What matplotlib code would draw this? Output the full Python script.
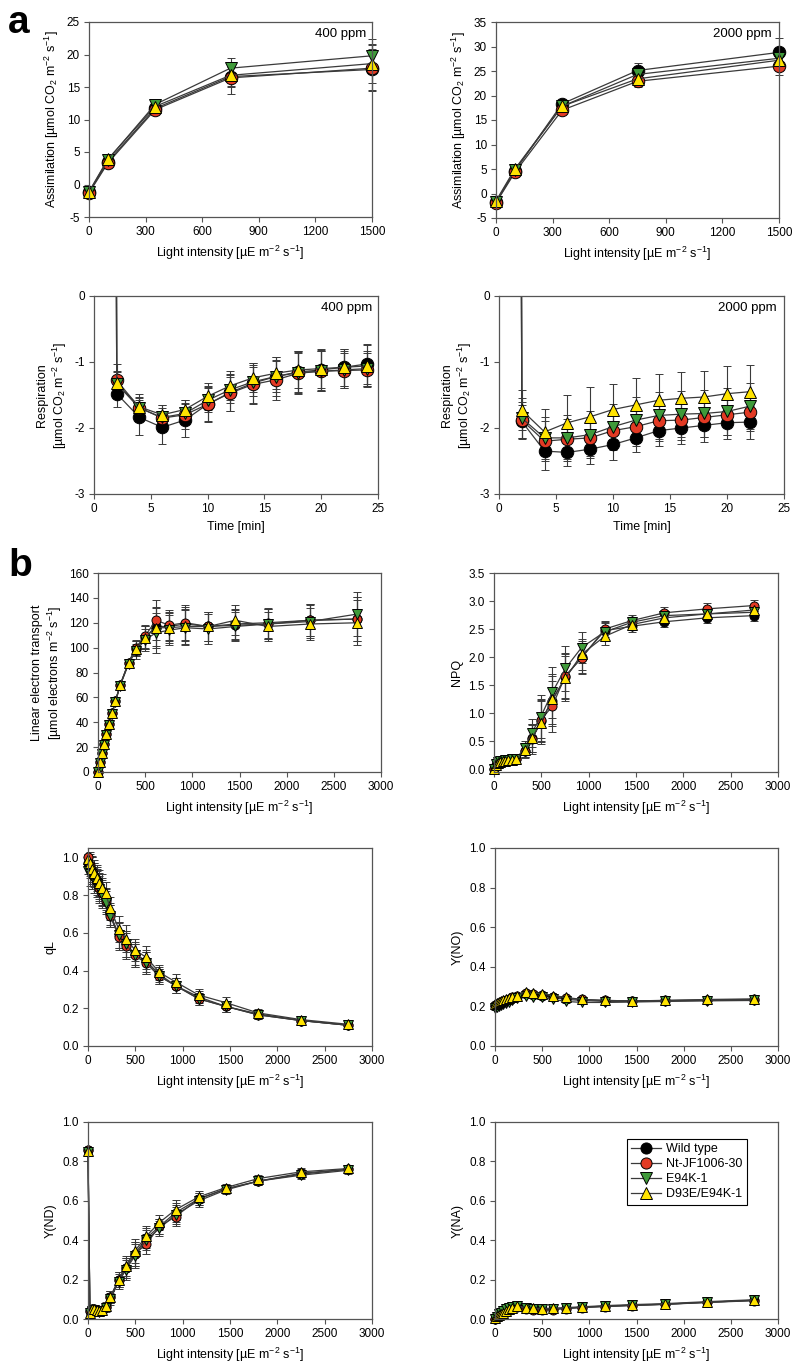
import matplotlib
matplotlib.use("Agg")
import matplotlib.pyplot as plt
from matplotlib.lines import Line2D

plt.rcParams['font.family'] = ['Liberation Sans', 'DejaVu Sans']
plt.rcParams['mathtext.fontset'] = 'custom'
plt.rcParams['mathtext.rm'] = 'Liberation Sans'
plt.rcParams['mathtext.it'] = 'Liberation Sans:italic'
plt.rcParams['axes.unicode_minus'] = False

# ---- series definitions ----
names = ['Wild type', 'Nt-JF1006-30', 'E94K-1', 'D93E/E94K-1']
colors = ['#000000', '#e23a24', '#3f9a3a', '#ffe300']
markers = ['o', 'o', 'v', '^']

# ---- panel a: light response of assimilation ----
light_a = [0, 100, 350, 750, 1500]
asm400_wt = [-1.2, 3.5, 11.7, 16.6, 17.7]
asm400_nt = [-1.3, 3.3, 11.5, 16.4, 17.9]
asm400_e94k = [-1.2, 3.8, 12.3, 17.9, 19.8]
asm400_d93e = [-1.1, 3.9, 12.0, 16.8, 18.6]
asm400_err_wt = [0.3, 0.4, 0.6, 1.5, 3.2]
asm400_err_nt = [0.3, 0.4, 0.7, 2.5, 3.5]
asm400_err_e94k = [0.3, 0.4, 0.6, 1.5, 2.6]
asm400_err_d93e = [0.3, 0.4, 0.6, 1.8, 3.0]

asm2000_wt = [-1.8, 4.6, 18.3, 25.1, 28.8]
asm2000_nt = [-1.9, 4.3, 17.0, 22.9, 26.0]
asm2000_e94k = [-1.7, 4.8, 17.8, 24.3, 27.6]
asm2000_d93e = [-1.5, 5.0, 17.8, 23.4, 27.2]
asm2000_err_wt = [0.4, 0.5, 0.6, 1.6, 3.0]
asm2000_err_nt = [0.4, 0.5, 0.6, 1.2, 1.8]
asm2000_err_e94k = [0.4, 0.5, 0.6, 1.2, 2.0]
asm2000_err_d93e = [0.4, 0.5, 0.6, 1.2, 2.0]

# ---- panel a: respiration in the dark ----
time400 = [1.9, 2, 4, 6, 8, 10, 12, 14, 16, 18, 20, 22, 24]
resp400_wt = [5.0, -1.48, -1.84, -1.99, -1.88, -1.64, -1.46, -1.32, -1.22, -1.15, -1.12, -1.08, -1.03]
resp400_nt = [5.0, -1.28, -1.69, -1.85, -1.80, -1.64, -1.47, -1.34, -1.27, -1.17, -1.14, -1.13, -1.12]
resp400_e94k = [5.0, -1.33, -1.70, -1.84, -1.78, -1.58, -1.42, -1.30, -1.22, -1.16, -1.14, -1.12, -1.10]
resp400_d93e = [5.0, -1.32, -1.68, -1.80, -1.72, -1.52, -1.36, -1.24, -1.17, -1.12, -1.10, -1.08, -1.06]
resp400_err_wt = [0, 0.20, 0.27, 0.25, 0.26, 0.27, 0.28, 0.30, 0.30, 0.32, 0.30, 0.28, 0.30]
resp400_err_nt = [0, 0.25, 0.20, 0.20, 0.22, 0.26, 0.28, 0.30, 0.30, 0.32, 0.30, 0.26, 0.25]
resp400_err_e94k = [0, 0.18, 0.15, 0.15, 0.15, 0.18, 0.20, 0.22, 0.24, 0.30, 0.30, 0.28, 0.26]
resp400_err_d93e = [0, 0.18, 0.15, 0.15, 0.15, 0.20, 0.22, 0.22, 0.24, 0.28, 0.30, 0.28, 0.32]

time2000 = [1.9, 2, 4, 6, 8, 10, 12, 14, 16, 18, 20, 22]
resp2000_wt = [5.0, -1.90, -2.35, -2.37, -2.32, -2.25, -2.15, -2.04, -2.00, -1.96, -1.92, -1.91]
resp2000_nt = [5.0, -1.88, -2.20, -2.17, -2.15, -2.04, -1.98, -1.89, -1.88, -1.84, -1.80, -1.76]
resp2000_e94k = [5.0, -1.85, -2.15, -2.15, -2.10, -1.98, -1.88, -1.81, -1.79, -1.78, -1.75, -1.67]
resp2000_d93e = [5.0, -1.73, -2.06, -1.92, -1.83, -1.72, -1.65, -1.58, -1.55, -1.53, -1.48, -1.45]
resp2000_err_wt = [0, 0.25, 0.28, 0.20, 0.22, 0.23, 0.22, 0.24, 0.25, 0.25, 0.24, 0.25]
resp2000_err_nt = [0, 0.28, 0.30, 0.30, 0.28, 0.28, 0.30, 0.30, 0.30, 0.30, 0.30, 0.28]
resp2000_err_e94k = [0, 0.30, 0.32, 0.35, 0.35, 0.35, 0.35, 0.35, 0.35, 0.35, 0.35, 0.35]
resp2000_err_d93e = [0, 0.30, 0.35, 0.42, 0.45, 0.38, 0.40, 0.40, 0.40, 0.40, 0.42, 0.40]

# ---- panel b: chlorophyll fluorescence / P700 light curves ----
light_b = [0, 20, 45, 65, 90, 120, 150, 185, 235, 325, 400, 495, 615, 755, 925, 1170, 1455, 1800, 2250, 2750]

let_wt = [0, 8, 15, 22.5, 30.5, 38.5, 47.5, 57, 70, 88, 99, 108, 117, 117, 119, 117, 118, 119, 122, 123]
let_nt = [0, 8, 15, 22.5, 30.5, 38.5, 47.5, 57, 70, 88, 100, 109, 122, 118, 120, 117, 119, 120, 122, 123]
let_e94k = [0, 7.5, 14.5, 22, 30, 38, 47, 56.5, 69.5, 87, 97, 106, 112, 114, 116, 115, 117, 119, 121, 127]
let_d93e = [0, 8, 15, 22.5, 30.5, 38.5, 47.5, 57, 70, 88, 99, 108, 116, 116, 117, 117, 122, 117, 119, 120]
let_err = [0, 1, 1, 1.5, 1.5, 2, 2, 2, 2.5, 3, 6, 9, 16, 12, 14, 12, 12, 12, 13, 18]

npq_wt = [0, 0.08, 0.12, 0.14, 0.15, 0.16, 0.17, 0.17, 0.18, 0.33, 0.55, 0.86, 1.22, 1.65, 2.00, 2.47, 2.55, 2.63, 2.70, 2.74]
npq_nt = [0, 0.08, 0.12, 0.14, 0.15, 0.16, 0.17, 0.17, 0.18, 0.32, 0.53, 0.88, 1.12, 1.67, 1.98, 2.50, 2.65, 2.79, 2.86, 2.92]
npq_e94k = [0, 0.09, 0.12, 0.14, 0.15, 0.16, 0.17, 0.18, 0.19, 0.38, 0.65, 0.94, 1.37, 1.80, 2.17, 2.45, 2.62, 2.74, 2.77, 2.80]
npq_d93e = [0, 0.07, 0.11, 0.13, 0.14, 0.15, 0.16, 0.17, 0.18, 0.34, 0.55, 0.83, 1.25, 1.62, 2.05, 2.37, 2.58, 2.70, 2.77, 2.84]
npq_err = [0.01, 0.02, 0.02, 0.02, 0.02, 0.02, 0.02, 0.03, 0.04, 0.12, 0.25, 0.38, 0.45, 0.40, 0.28, 0.15, 0.10, 0.10, 0.10, 0.09]

ql_wt = [0.97, 0.95, 0.93, 0.90, 0.88, 0.85, 0.82, 0.78, 0.70, 0.59, 0.54, 0.49, 0.45, 0.38, 0.32, 0.26, 0.21, 0.17, 0.135, 0.11]
ql_nt = [1.00, 0.96, 0.93, 0.90, 0.87, 0.84, 0.81, 0.77, 0.69, 0.58, 0.53, 0.48, 0.44, 0.37, 0.32, 0.25, 0.21, 0.165, 0.135, 0.11]
ql_e94k = [0.93, 0.91, 0.90, 0.88, 0.86, 0.83, 0.80, 0.76, 0.69, 0.59, 0.54, 0.48, 0.44, 0.37, 0.32, 0.25, 0.21, 0.165, 0.135, 0.11]
ql_d93e = [0.99, 0.97, 0.94, 0.915, 0.89, 0.865, 0.84, 0.81, 0.73, 0.62, 0.57, 0.51, 0.47, 0.39, 0.34, 0.27, 0.23, 0.175, 0.14, 0.115]
ql_err = [0.02, 0.06, 0.07, 0.07, 0.07, 0.07, 0.07, 0.06, 0.06, 0.07, 0.07, 0.06, 0.06, 0.04, 0.04, 0.03, 0.03, 0.02, 0.015, 0.01]

yno_wt = [0.20, 0.205, 0.21, 0.215, 0.22, 0.225, 0.23, 0.24, 0.25, 0.265, 0.26, 0.255, 0.245, 0.235, 0.23, 0.225, 0.225, 0.228, 0.23, 0.232]
yno_nt = [0.205, 0.21, 0.215, 0.22, 0.225, 0.23, 0.235, 0.245, 0.255, 0.27, 0.265, 0.26, 0.25, 0.24, 0.235, 0.23, 0.228, 0.23, 0.233, 0.235]
yno_e94k = [0.19, 0.195, 0.20, 0.205, 0.21, 0.215, 0.22, 0.23, 0.24, 0.255, 0.25, 0.245, 0.235, 0.225, 0.22, 0.22, 0.222, 0.225, 0.228, 0.23]
yno_d93e = [0.21, 0.215, 0.22, 0.225, 0.23, 0.235, 0.24, 0.245, 0.255, 0.275, 0.27, 0.265, 0.255, 0.245, 0.235, 0.23, 0.228, 0.23, 0.235, 0.238]
yno_err = [0.01] * 20

ynd_wt = [0.86, 0.04, 0.05, 0.05, 0.045, 0.04, 0.04, 0.06, 0.11, 0.20, 0.26, 0.33, 0.41, 0.47, 0.54, 0.61, 0.66, 0.70, 0.735, 0.76]
ynd_nt = [0.86, 0.04, 0.05, 0.05, 0.045, 0.04, 0.045, 0.06, 0.11, 0.20, 0.26, 0.33, 0.38, 0.47, 0.52, 0.61, 0.66, 0.70, 0.74, 0.76]
ynd_e94k = [0.85, 0.03, 0.04, 0.045, 0.04, 0.035, 0.04, 0.055, 0.10, 0.19, 0.25, 0.32, 0.40, 0.46, 0.53, 0.60, 0.655, 0.70, 0.73, 0.755]
ynd_d93e = [0.855, 0.03, 0.05, 0.05, 0.045, 0.04, 0.045, 0.065, 0.11, 0.20, 0.27, 0.345, 0.42, 0.49, 0.555, 0.62, 0.667, 0.713, 0.747, 0.764]
ynd_err = [0.01, 0.01, 0.01, 0.01, 0.01, 0.01, 0.01, 0.02, 0.03, 0.04, 0.05, 0.06, 0.05, 0.04, 0.05, 0.03, 0.02, 0.02, 0.02, 0.02]

yna_wt = [0.0, 0.01, 0.02, 0.025, 0.035, 0.045, 0.055, 0.06, 0.065, 0.055, 0.05, 0.05, 0.05, 0.055, 0.06, 0.065, 0.07, 0.075, 0.085, 0.095]
yna_nt = [0.0, 0.012, 0.02, 0.025, 0.035, 0.045, 0.05, 0.058, 0.062, 0.05, 0.048, 0.048, 0.048, 0.053, 0.058, 0.063, 0.068, 0.074, 0.084, 0.093]
yna_e94k = [0.0, 0.01, 0.025, 0.03, 0.04, 0.05, 0.058, 0.062, 0.065, 0.055, 0.05, 0.05, 0.052, 0.055, 0.06, 0.065, 0.07, 0.075, 0.085, 0.095]
yna_d93e = [0.005, 0.015, 0.02, 0.025, 0.03, 0.04, 0.05, 0.055, 0.065, 0.058, 0.055, 0.053, 0.055, 0.058, 0.062, 0.068, 0.073, 0.078, 0.088, 0.098]
yna_err = [0.005] * 20

light_label = 'Light intensity [µE m$^{-2}$ s$^{-1}$]'

W, H = 800, 1372
fig = plt.figure(figsize=(W / 100, H / 100), dpi=100)


def add_ax(left, right, top, bottom):
    return fig.add_axes([left / W, 1 - bottom / H, (right - left) / W, (bottom - top) / H])


def style(ax):
    for s in ax.spines.values():
        s.set_color('#555555')
        s.set_linewidth(0.9)
    ax.tick_params(direction='out', length=3.5, width=0.8, color='#555555', labelsize=8.5, pad=3)


def draw(ax, x, series, errs, ms, clip=False):
    for y, e, c, m in zip(series, errs, colors, markers):
        ax.errorbar(x, y, yerr=e, fmt='-', marker=m, color='#3a3a3a', lw=0.9,
                    mfc=c, mec='black', mew=0.7, ms=ms, ecolor='#3a3a3a',
                    elinewidth=0.8, capsize=3, capthick=0.8, clip_on=clip)


# assimilation 400
ax = add_ax(89, 372, 22, 217)
draw(ax, light_a, [asm400_wt, asm400_nt, asm400_e94k, asm400_d93e],
     [asm400_err_wt, asm400_err_nt, asm400_err_e94k, asm400_err_d93e], 9)
ax.set_xlim(0, 1500); ax.set_ylim(-5, 25)
ax.set_xticks(range(0, 1501, 300)); ax.set_yticks(range(-5, 26, 5))
ax.set_xlabel(light_label, fontsize=9)
ax.set_ylabel('Assimilation [µmol CO$_2$ m$^{-2}$ s$^{-1}$]', fontsize=9)
ax.text(0.98, 0.94, '400 ppm', transform=ax.transAxes, ha='right', va='center', fontsize=9.5)
style(ax)

# assimilation 2000
ax = add_ax(496, 779, 22, 218)
draw(ax, light_a, [asm2000_wt, asm2000_nt, asm2000_e94k, asm2000_d93e],
     [asm2000_err_wt, asm2000_err_nt, asm2000_err_e94k, asm2000_err_d93e], 9)
ax.set_xlim(0, 1500); ax.set_ylim(-5, 35)
ax.set_xticks(range(0, 1501, 300)); ax.set_yticks(range(-5, 36, 5))
ax.set_xlabel(light_label, fontsize=9)
ax.set_ylabel('Assimilation [µmol CO$_2$ m$^{-2}$ s$^{-1}$]', fontsize=9)
ax.text(0.975, 0.94, '2000 ppm', transform=ax.transAxes, ha='right', va='center', fontsize=9.5)
style(ax)

# respiration 400
ax = add_ax(94, 378, 296, 494)
draw(ax, time400, [resp400_wt, resp400_nt, resp400_e94k, resp400_d93e],
     [resp400_err_wt, resp400_err_nt, resp400_err_e94k, resp400_err_d93e], 9, clip=True)
ax.set_xlim(0, 25); ax.set_ylim(-3, 0)
ax.set_xticks(range(0, 26, 5)); ax.set_yticks([-3, -2, -1, 0])
ax.set_xlabel('Time [min]', fontsize=9)
ax.set_ylabel('Respiration\n[µmol CO$_2$ m$^{-2}$ s$^{-1}$]', fontsize=9)
ax.text(0.98, 0.94, '400 ppm', transform=ax.transAxes, ha='right', va='center', fontsize=9.5)
style(ax)

# respiration 2000
ax = add_ax(499, 784, 296, 494)
draw(ax, time2000, [resp2000_wt, resp2000_nt, resp2000_e94k, resp2000_d93e],
     [resp2000_err_wt, resp2000_err_nt, resp2000_err_e94k, resp2000_err_d93e], 9, clip=True)
ax.set_xlim(0, 25); ax.set_ylim(-3, 0)
ax.set_xticks(range(0, 26, 5)); ax.set_yticks([-3, -2, -1, 0])
ax.set_xlabel('Time [min]', fontsize=9)
ax.set_ylabel('Respiration\n[µmol CO$_2$ m$^{-2}$ s$^{-1}$]', fontsize=9)
ax.text(0.975, 0.94, '2000 ppm', transform=ax.transAxes, ha='right', va='center', fontsize=9.5)
style(ax)

# part b panels
b_panels = [
    ((98, 381, 573, 772), [let_wt, let_nt, let_e94k, let_d93e], let_err, (0, 160), range(0, 161, 20),
     'Linear electron transport\n[µmol electrons m$^{-2}$ s$^{-1}$]', '%d'),
    ((494, 778, 573, 772), [npq_wt, npq_nt, npq_e94k, npq_d93e], npq_err, (-0.05, 3.5),
     [0, 0.5, 1, 1.5, 2, 2.5, 3, 3.5], 'NPQ', '%.1f'),
    ((88, 372, 848, 1046), [ql_wt, ql_nt, ql_e94k, ql_d93e], ql_err, (0, 1.05),
     [0, 0.2, 0.4, 0.6, 0.8, 1.0], 'qL', '%.1f'),
    ((495, 778, 848, 1046), [yno_wt, yno_nt, yno_e94k, yno_d93e], yno_err, (0, 1.0),
     [0, 0.2, 0.4, 0.6, 0.8, 1.0], 'Y(NO)', '%.1f'),
    ((88, 372, 1122, 1319), [ynd_wt, ynd_nt, ynd_e94k, ynd_d93e], ynd_err, (0, 1.0),
     [0, 0.2, 0.4, 0.6, 0.8, 1.0], 'Y(ND)', '%.1f'),
    ((495, 778, 1122, 1319), [yna_wt, yna_nt, yna_e94k, yna_d93e], yna_err, (0, 1.0),
     [0, 0.2, 0.4, 0.6, 0.8, 1.0], 'Y(NA)', '%.1f'),
]

for box, series, err, ylim, yt, ylab, fmt in b_panels:
    ax = add_ax(*box)
    draw(ax, light_b, series, [err] * 4, 6.5)
    ax.set_xlim(0, 3000); ax.set_ylim(*ylim)
    ax.set_xticks(range(0, 3001, 500)); ax.set_yticks(yt)
    ax.set_yticklabels([fmt % v for v in yt])
    ax.set_xlabel(light_label, fontsize=9)
    ax.set_ylabel(ylab, fontsize=9)
    style(ax)

handles = [Line2D([], [], color='#3a3a3a', lw=0.9, marker=m, mfc=c, mec='black', mew=0.7, ms=8)
           for c, m in zip(colors, markers)]
leg = ax.legend(handles, names, loc='upper right', bbox_to_anchor=(0.89, 0.915), borderaxespad=0,
                fontsize=9, frameon=True, fancybox=False, framealpha=1, handlelength=2.4,
                handletextpad=0.4, labelspacing=0.25, borderpad=0.35)
leg.get_frame().set_edgecolor('black')
leg.get_frame().set_linewidth(0.8)

fig.text(8 / W, 1 - 33 / H, 'a', fontsize=28, fontweight='bold', va='baseline')
fig.text(8 / W, 1 - 576 / H, 'b', fontsize=28, fontweight='bold', va='baseline')

fig.savefig('out.png', dpi=100)
